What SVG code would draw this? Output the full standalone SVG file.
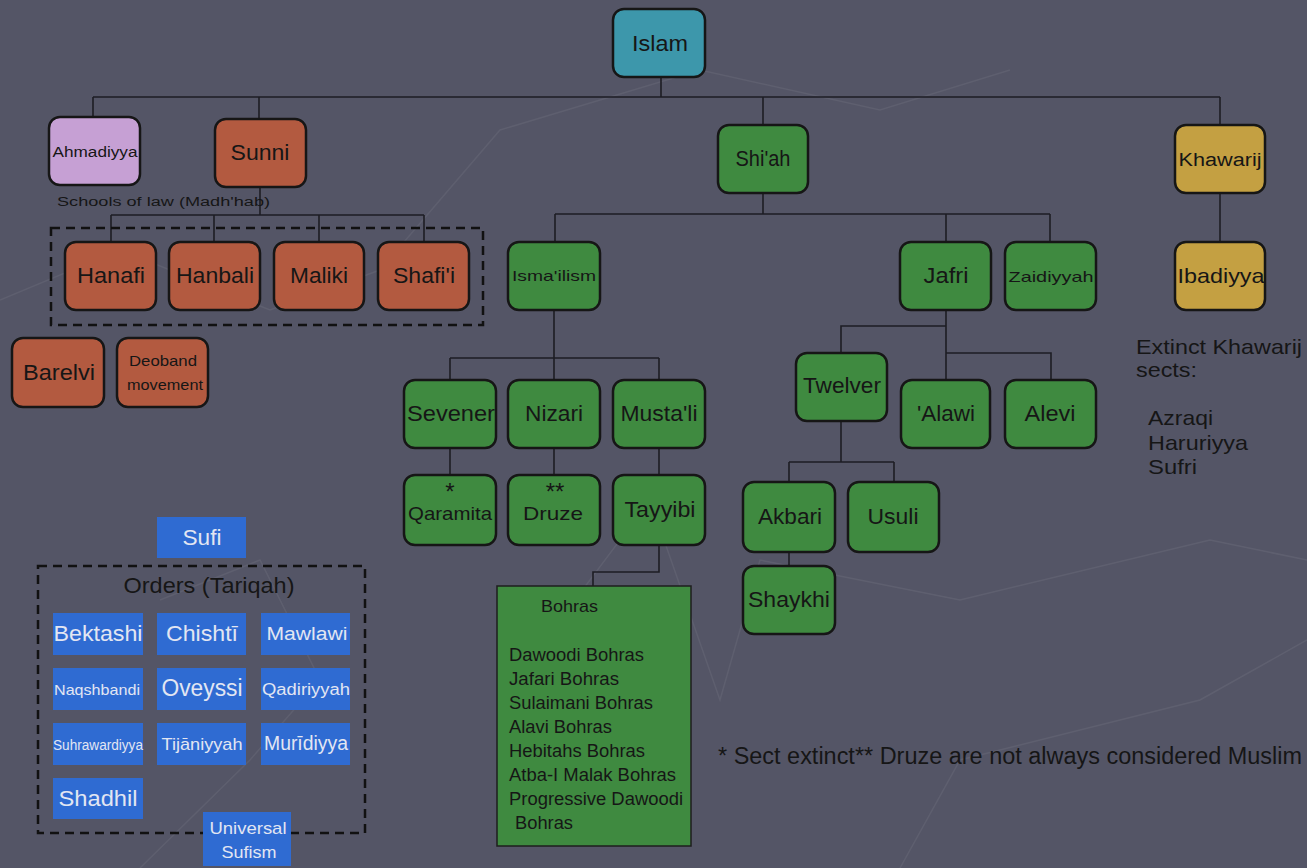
<svg xmlns="http://www.w3.org/2000/svg" width="1307" height="868" viewBox="0 0 1307 868">
<style>
.n{stroke:#161616;stroke-width:2.5}
.teal{fill:#3d97ab}.pur{fill:#c6a0d4}.red{fill:#b35a40}.grn{fill:#3f8a40}.gold{fill:#c4a042}.blu{fill:#2f6bd2}
text{font-family:"Liberation Sans",Arial,sans-serif;fill:#161616;text-anchor:middle}
.t{font-size:22px}
.w{fill:#e2e6f2}
.c{fill:none;stroke:#1d1d24;stroke-width:1.6}
.d{fill:none;stroke:#111;stroke-width:2.5;stroke-dasharray:9 6}
.l{text-anchor:start}
</style>
<rect width="1307" height="868" fill="#545566"/>
<g opacity="0.06" fill="none" stroke="#ffffff" stroke-width="1.5">
<polyline points="0,300 120,250 270,310 380,270 500,130 700,70 880,110 1010,70"/>
<polyline points="560,620 650,500 720,700 760,560 960,600 1210,540 1307,560"/>
<polyline points="160,600 260,560 320,680 250,760 140,868"/>
<polyline points="900,868 960,760 1200,700 1307,640"/>
</g>
<g id="connectors">
<path class="c" d="M661,77V97M93,97H1220M93,97V117M259,97V119M763,97V125M1220,97V125"/>
<path class="c" d="M260,187V215M111,215H424M111,215V242M214,215V242M319,215V242M424,215V242"/>
<path class="c" d="M763,193V214M555,214H1050M555,214V242M946,214V242M1050,214V242"/>
<path class="c" d="M1220,193V242"/>
<path class="c" d="M554,310V358M450,358H659M450,358V380M554,358V380M659,358V380"/>
<path class="c" d="M450,448V475M554,448V475M659,448V475M659,545V572H593V586"/>
<path class="c" d="M946,310V380M946,326H841V353M946,353H1051V380"/>
<path class="c" d="M841,421V462M789,462H894M789,462V482M894,462V482M789,552V566"/>
</g>
<rect class="d" x="51" y="228" width="432" height="97"/>
<rect class="d" x="38" y="566" width="327" height="267"/>
<g id="islam"><rect class="n teal" x="613" y="9" width="92" height="68" rx="11"/><text class="t" x="660" y="51" textLength="56" lengthAdjust="spacingAndGlyphs">Islam</text></g>
<g id="ahmadiyya"><rect class="n pur" x="49" y="117" width="91" height="68" rx="11"/><text x="95" y="157" font-size="14" textLength="85" lengthAdjust="spacingAndGlyphs">Ahmadiyya</text></g>
<g id="sunni"><rect class="n red" x="215" y="119" width="91" height="68" rx="11"/><text class="t" x="260" y="160" textLength="59" lengthAdjust="spacingAndGlyphs">Sunni</text></g>
<g id="shiah"><rect class="n grn" x="718" y="125" width="90" height="68" rx="11"/><text class="t" x="763" y="166" textLength="55" lengthAdjust="spacingAndGlyphs">Shi'ah</text></g>
<g id="khawarij"><rect class="n gold" x="1175" y="125" width="90" height="68" rx="11"/><text x="1220" y="166" font-size="18" textLength="83" lengthAdjust="spacingAndGlyphs">Khawarij</text></g>
<text x="57" y="206" font-size="12.5" class="l" fill="#222" textLength="213" lengthAdjust="spacingAndGlyphs">Schools of law (Madh'hab)</text>
<g id="hanafi"><rect class="n red" x="65" y="242" width="91" height="68" rx="11"/><text class="t" x="111" y="283" textLength="68" lengthAdjust="spacingAndGlyphs">Hanafi</text></g>
<g id="hanbali"><rect class="n red" x="169" y="242" width="91" height="68" rx="11"/><text class="t" x="215" y="283" textLength="78" lengthAdjust="spacingAndGlyphs">Hanbali</text></g>
<g id="maliki"><rect class="n red" x="274" y="242" width="90" height="68" rx="11"/><text class="t" x="319" y="283" textLength="58" lengthAdjust="spacingAndGlyphs">Maliki</text></g>
<g id="shafii"><rect class="n red" x="378" y="242" width="91" height="68" rx="11"/><text class="t" x="424" y="283" textLength="62" lengthAdjust="spacingAndGlyphs">Shafi'i</text></g>
<g id="barelvi"><rect class="n red" x="12" y="338" width="92" height="69" rx="11"/><text class="t" x="59" y="380" textLength="72" lengthAdjust="spacingAndGlyphs">Barelvi</text></g>
<g id="deoband"><rect class="n red" x="117" y="338" width="91" height="69" rx="11"/><text x="163" y="366" font-size="15" textLength="68" lengthAdjust="spacingAndGlyphs">Deoband</text><text x="165" y="390" font-size="15" textLength="76" lengthAdjust="spacingAndGlyphs">movement</text></g>
<g id="ismailism"><rect class="n grn" x="508" y="242" width="92" height="68" rx="11"/><text x="554" y="281" font-size="15" textLength="84" lengthAdjust="spacingAndGlyphs">Isma'ilism</text></g>
<g id="jafri"><rect class="n grn" x="900" y="242" width="91" height="68" rx="11"/><text class="t" x="946" y="283" textLength="45" lengthAdjust="spacingAndGlyphs">Jafri</text></g>
<g id="zaidiyyah"><rect class="n grn" x="1005" y="242" width="91" height="68" rx="11"/><text x="1051" y="282" font-size="15" textLength="85" lengthAdjust="spacingAndGlyphs">Zaidiyyah</text></g>
<g id="ibadiyya"><rect class="n gold" x="1175" y="242" width="90" height="68" rx="11"/><text x="1221" y="283" font-size="21" textLength="87" lengthAdjust="spacingAndGlyphs">Ibadiyya</text></g>
<g id="sevener"><rect class="n grn" x="404" y="380" width="92" height="68" rx="11"/><text class="t" x="451" y="421" textLength="88" lengthAdjust="spacingAndGlyphs">Sevener</text></g>
<g id="nizari"><rect class="n grn" x="508" y="380" width="92" height="68" rx="11"/><text class="t" x="554" y="421" textLength="58" lengthAdjust="spacingAndGlyphs">Nizari</text></g>
<g id="mustali"><rect class="n grn" x="613" y="380" width="92" height="68" rx="11"/><text class="t" x="659" y="421" textLength="77" lengthAdjust="spacingAndGlyphs">Musta'li</text></g>
<g id="qaramita"><rect class="n grn" x="404" y="475" width="92" height="70" rx="11"/><text font-size="19"><tspan x="450" y="500" font-size="24">*</tspan><tspan x="450" y="520" textLength="84" lengthAdjust="spacingAndGlyphs">Qaramita</tspan></text></g>
<g id="druze"><rect class="n grn" x="508" y="475" width="92" height="70" rx="11"/><text font-size="19"><tspan x="555" y="500" font-size="24">**</tspan><tspan x="553" y="520" textLength="60" lengthAdjust="spacingAndGlyphs">Druze</tspan></text></g>
<g id="tayyibi"><rect class="n grn" x="613" y="475" width="92" height="70" rx="11"/><text class="t" x="660" y="517" textLength="71" lengthAdjust="spacingAndGlyphs">Tayyibi</text></g>
<g id="bohras"><rect x="497" y="586" width="194" height="260" fill="#3f8a40" stroke="#1e1e1e" stroke-width="1.5"/>
<text x="541" y="612" font-size="17" class="l" textLength="57" lengthAdjust="spacingAndGlyphs">Bohras</text>
<g font-size="17.5"><text x="509" y="661" class="l" textLength="135" lengthAdjust="spacingAndGlyphs">Dawoodi Bohras</text><text x="509" y="685" class="l" textLength="110" lengthAdjust="spacingAndGlyphs">Jafari Bohras</text><text x="509" y="709" class="l" textLength="144" lengthAdjust="spacingAndGlyphs">Sulaimani Bohras</text><text x="509" y="733" class="l" textLength="103" lengthAdjust="spacingAndGlyphs">Alavi Bohras</text><text x="509" y="757" class="l" textLength="136" lengthAdjust="spacingAndGlyphs">Hebitahs Bohras</text><text x="509" y="781" class="l" textLength="167" lengthAdjust="spacingAndGlyphs">Atba-I Malak Bohras</text><text x="509" y="805" class="l" textLength="174" lengthAdjust="spacingAndGlyphs">Progressive Dawoodi</text><text x="515" y="829" class="l" textLength="58" lengthAdjust="spacingAndGlyphs">Bohras</text></g></g>
<g id="twelver"><rect class="n grn" x="796" y="353" width="91" height="68" rx="11"/><text class="t" x="842" y="393" textLength="78" lengthAdjust="spacingAndGlyphs">Twelver</text></g>
<g id="alawi"><rect class="n grn" x="901" y="380" width="89" height="68" rx="11"/><text class="t" x="946" y="421" textLength="58" lengthAdjust="spacingAndGlyphs">'Alawi</text></g>
<g id="alevi"><rect class="n grn" x="1005" y="380" width="91" height="68" rx="11"/><text class="t" x="1050" y="421" textLength="51" lengthAdjust="spacingAndGlyphs">Alevi</text></g>
<g id="akbari"><rect class="n grn" x="743" y="482" width="92" height="70" rx="11"/><text class="t" x="790" y="524" textLength="64" lengthAdjust="spacingAndGlyphs">Akbari</text></g>
<g id="usuli"><rect class="n grn" x="848" y="482" width="91" height="70" rx="11"/><text class="t" x="893" y="524" textLength="51" lengthAdjust="spacingAndGlyphs">Usuli</text></g>
<g id="shaykhi"><rect class="n grn" x="743" y="566" width="92" height="68" rx="11"/><text class="t" x="789" y="607" textLength="82" lengthAdjust="spacingAndGlyphs">Shaykhi</text></g>
<g id="extinct" font-size="21"><text x="1136" y="354" class="l" textLength="166" lengthAdjust="spacingAndGlyphs">Extinct Khawarij</text><text x="1136" y="377" class="l" textLength="61" lengthAdjust="spacingAndGlyphs">sects:</text><text x="1148" y="425" class="l" textLength="65" lengthAdjust="spacingAndGlyphs">Azraqi</text><text x="1148" y="450" class="l" textLength="100" lengthAdjust="spacingAndGlyphs">Haruriyya</text><text x="1148" y="474" class="l" textLength="49" lengthAdjust="spacingAndGlyphs">Sufri</text></g>
<text x="718" y="764" font-size="23" class="l" textLength="584" lengthAdjust="spacingAndGlyphs">* Sect extinct** Druze are not always considered Muslim</text>
<g id="sufi"><rect class="blu" x="157" y="517" width="89" height="41"/><text class="w t" x="202" y="545" textLength="39" lengthAdjust="spacingAndGlyphs">Sufi</text></g>
<text x="209" y="593" font-size="22" fill="#1e1e1e" textLength="171" lengthAdjust="spacingAndGlyphs">Orders (Tariqah)</text>
<g id="bektashi"><rect class="blu" x="53" y="613" width="90" height="42"/><text class="w t" x="98" y="641" textLength="89" lengthAdjust="spacingAndGlyphs">Bektashi</text></g>
<g id="chishti"><rect class="blu" x="157" y="613" width="89" height="42"/><text class="w t" x="202" y="641" textLength="72" lengthAdjust="spacingAndGlyphs">Chishtī</text></g>
<g id="mawlawi"><rect class="blu" x="261" y="613" width="89" height="42"/><text class="w" x="307" y="640" font-size="18" textLength="81" lengthAdjust="spacingAndGlyphs">Mawlawi</text></g>
<g id="naqshbandi"><rect class="blu" x="53" y="668" width="90" height="42"/><text class="w" x="97" y="695" font-size="15" textLength="86" lengthAdjust="spacingAndGlyphs">Naqshbandi</text></g>
<g id="oveyssi"><rect class="blu" x="157" y="668" width="89" height="42"/><text class="w" x="202" y="696" font-size="23" textLength="81" lengthAdjust="spacingAndGlyphs">Oveyssi</text></g>
<g id="qadiriyyah"><rect class="blu" x="261" y="668" width="89" height="42"/><text class="w" x="306" y="695" font-size="16" textLength="88" lengthAdjust="spacingAndGlyphs">Qadiriyyah</text></g>
<g id="suhrawardiyya"><rect class="blu" x="53" y="723" width="90" height="42"/><text class="w" x="98" y="750" font-size="14" textLength="90" lengthAdjust="spacingAndGlyphs">Suhrawardiyya</text></g>
<g id="tijaniyyah"><rect class="blu" x="157" y="723" width="89" height="42"/><text class="w" x="202" y="750" font-size="17" textLength="81" lengthAdjust="spacingAndGlyphs">Tijāniyyah</text></g>
<g id="muridiyya"><rect class="blu" x="261" y="723" width="89" height="42"/><text class="w" x="306" y="750" font-size="20" textLength="84" lengthAdjust="spacingAndGlyphs">Murīdiyya</text></g>
<g id="shadhil"><rect class="blu" x="53" y="778" width="90" height="41"/><text class="w t" x="98" y="806" textLength="79" lengthAdjust="spacingAndGlyphs">Shadhil</text></g>
<g id="universal"><rect class="blu" x="203" y="812" width="88" height="54"/><text class="w" x="248" y="834" font-size="17" textLength="77" lengthAdjust="spacingAndGlyphs">Universal</text><text class="w" x="249" y="858" font-size="17" textLength="55" lengthAdjust="spacingAndGlyphs">Sufism</text></g>
</svg>
